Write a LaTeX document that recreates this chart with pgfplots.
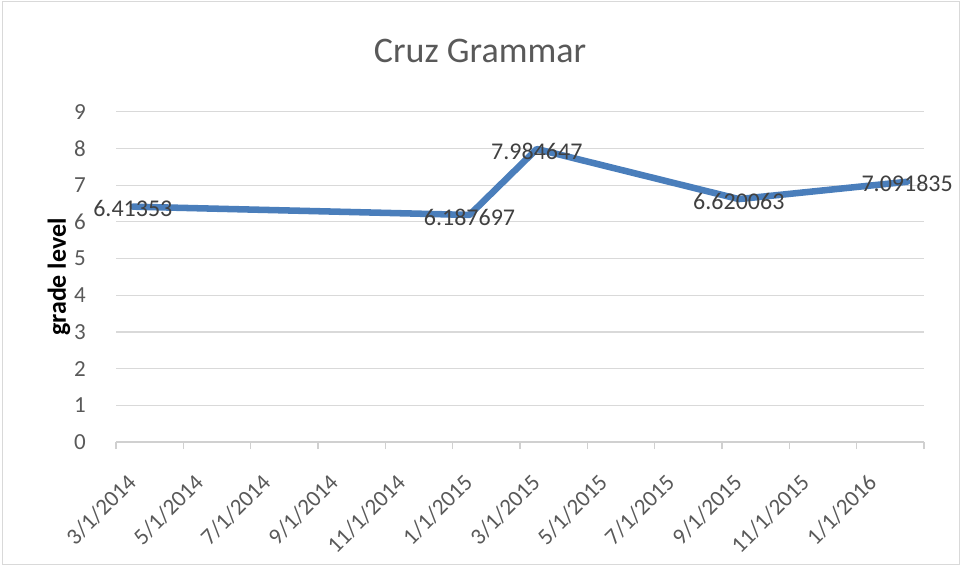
\documentclass[border=0pt]{standalone}
\usepackage{fontspec}
\setmainfont{Carlito}
\usepackage{pgfplots}
\usepackage{pgfplotstable}
\pgfplotsset{compat=1.18}
\definecolor{lineblue}{HTML}{4A7EBB}
\definecolor{gridgray}{HTML}{D9D9D9}
\definecolor{axisgray}{HTML}{D0D0D0}
\definecolor{txtgray}{HTML}{595959}
\definecolor{lblgray}{HTML}{404040}
\definecolor{framegray}{HTML}{D9D9D9}

\pgfplotstableread{
x y lbl
0.5 6.41353 6.41353
10.5 6.187697 6.187697
12.5 7.984647 7.984647
18.5 6.620063 6.620063
23.5 7.091835 7.091835
}\cruz

\begin{document}
\begin{tikzpicture}
\path[use as bounding box] (0,0) rectangle (720.75pt,426pt);
\draw[framegray, line width=0.75pt] (1.5pt,2.25pt) rectangle (719.25pt,424.5pt);
\begin{axis}[
 at={(87pt,94.5pt)}, anchor=south west,
 scale only axis, width=606pt, height=247.7pt,
 xmin=0, xmax=24, ymin=0, ymax=9,
 xtick={0,2,...,24},
 xticklabels={3/1/2014,5/1/2014,7/1/2014,9/1/2014,11/1/2014,1/1/2015,3/1/2015,5/1/2015,7/1/2015,9/1/2015,11/1/2015,1/1/2016,{}},
 ytick={0,1,...,9},
 axis x line*=bottom, axis y line*=left,
 x axis line style={draw=axisgray, line width=0.9pt, -},
 y axis line style={draw=none},
 ymajorgrids, grid style={draw=gridgray, line width=0.9pt},
 tick align=outside, major tick length=5.25pt,
 xtick style={draw=axisgray, line width=0.9pt},
 ytick style={draw=none},
 tick label style={font=\fontsize{17.25}{20}\selectfont, text=txtgray},
 /pgf/number format/assume math mode=true,
 yticklabel style={anchor=east, inner sep=0pt, xshift=-17.25pt},
 xticklabel style={xshift=7.5pt, yshift=-17.5pt, rotate=45, anchor=north east, inner sep=0pt},
 clip=false,
]
\addplot[lineblue, line width=4.9pt, line join=round, line cap=round, mark=none,
  nodes near coords, point meta=explicit symbolic,
  nodes near coords style={anchor=center, inner sep=0pt, font=\fontsize{18}{21}\selectfont, text=lblgray, yshift=-1.5pt}]
  table[x=x, y=y, meta=lbl] {\cruz};
\end{axis}
\node[anchor=base, inner sep=0pt, font=\fontsize{27}{32}\selectfont, text=txtgray] at (360pt,378.75pt) {Cruz Grammar};
\node[anchor=base, inner sep=0pt, rotate=90, font=\bfseries\fontsize{19.5}{23}\selectfont] at (49.5pt,218.25pt) {grade level};
\end{tikzpicture}
\end{document}
